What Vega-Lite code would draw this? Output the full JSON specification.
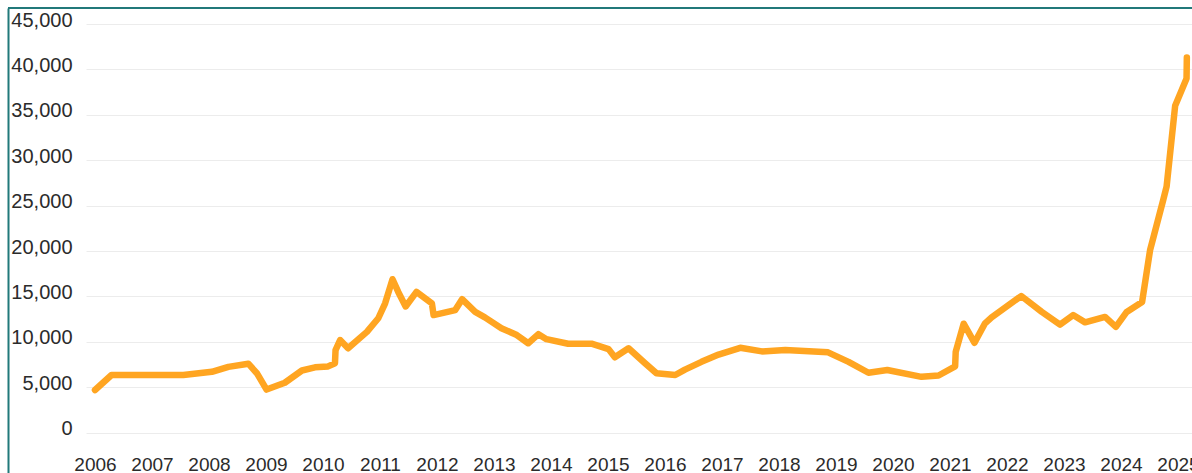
{
  "$schema": "https://vega.github.io/schema/vega-lite/v6.json",
  "autosize": {"type": "none"},
  "padding": {"left": 8, "top": 8, "right": 0, "bottom": 0},
  "width": 1184,
  "height": 465,
  "background": "white",
  "config": {
    "view": {"stroke": null},
    "font": "Liberation Sans"
  },
  "datasets": {
    "series": [
      {"t": 2006.0, "v": 4700},
      {"t": 2006.29, "v": 6350},
      {"t": 2007.55, "v": 6350},
      {"t": 2008.05, "v": 6700},
      {"t": 2008.34, "v": 7250},
      {"t": 2008.69, "v": 7600},
      {"t": 2008.84, "v": 6550},
      {"t": 2009.01, "v": 4750},
      {"t": 2009.33, "v": 5500},
      {"t": 2009.63, "v": 6850},
      {"t": 2009.86, "v": 7200},
      {"t": 2010.09, "v": 7300},
      {"t": 2010.21, "v": 7650},
      {"t": 2010.22, "v": 9100},
      {"t": 2010.3, "v": 10200},
      {"t": 2010.44, "v": 9300},
      {"t": 2010.77, "v": 11100},
      {"t": 2010.97, "v": 12600},
      {"t": 2011.09, "v": 14250},
      {"t": 2011.22, "v": 16900},
      {"t": 2011.32, "v": 15500},
      {"t": 2011.45, "v": 13900},
      {"t": 2011.64, "v": 15500},
      {"t": 2011.91, "v": 14250},
      {"t": 2011.94, "v": 12950},
      {"t": 2012.32, "v": 13500},
      {"t": 2012.44, "v": 14700},
      {"t": 2012.67, "v": 13300},
      {"t": 2012.84, "v": 12700},
      {"t": 2013.13, "v": 11500},
      {"t": 2013.4, "v": 10750},
      {"t": 2013.6, "v": 9850},
      {"t": 2013.78, "v": 10850},
      {"t": 2013.92, "v": 10300},
      {"t": 2014.3, "v": 9800},
      {"t": 2014.71, "v": 9800},
      {"t": 2015.01, "v": 9200},
      {"t": 2015.12, "v": 8300},
      {"t": 2015.36, "v": 9300},
      {"t": 2015.65, "v": 7650},
      {"t": 2015.85, "v": 6550},
      {"t": 2016.18, "v": 6350},
      {"t": 2016.35, "v": 6950},
      {"t": 2016.64, "v": 7800},
      {"t": 2016.94, "v": 8600},
      {"t": 2017.32, "v": 9350},
      {"t": 2017.7, "v": 8950},
      {"t": 2018.11, "v": 9100},
      {"t": 2018.86, "v": 8850},
      {"t": 2019.22, "v": 7800},
      {"t": 2019.57, "v": 6600},
      {"t": 2019.9, "v": 6900},
      {"t": 2020.5, "v": 6150},
      {"t": 2020.8, "v": 6300},
      {"t": 2021.09, "v": 7300},
      {"t": 2021.1, "v": 8900},
      {"t": 2021.24, "v": 12000},
      {"t": 2021.43, "v": 9900},
      {"t": 2021.61, "v": 12000},
      {"t": 2021.73, "v": 12700},
      {"t": 2022.25, "v": 15050},
      {"t": 2022.61, "v": 13300},
      {"t": 2022.93, "v": 11900},
      {"t": 2023.16, "v": 12950},
      {"t": 2023.37, "v": 12150},
      {"t": 2023.72, "v": 12750},
      {"t": 2023.91, "v": 11650},
      {"t": 2024.1, "v": 13300},
      {"t": 2024.37, "v": 14400},
      {"t": 2024.51, "v": 20100},
      {"t": 2024.74, "v": 25600},
      {"t": 2024.8, "v": 27100},
      {"t": 2024.95, "v": 36000},
      {"t": 2025.15, "v": 39000},
      {"t": 2025.155, "v": 41300}
    ]
  },
  "layer": [
    {
      "data": {"name": "series"},
      "mark": {"type": "line", "color": "#FFA521", "strokeWidth": 6.5, "strokeCap": "round", "strokeJoin": "round"},
      "encoding": {
        "x": {
          "field": "t",
          "type": "quantitative",
          "scale": {"domain": [2005.8421, 2025.2456], "range": [78, 1184], "nice": false, "zero": false},
          "axis": {
            "title": null,
            "orient": "bottom",
            "values": [2006, 2007, 2008, 2009, 2010, 2011, 2012, 2013, 2014, 2015, 2016, 2017, 2018, 2019, 2020, 2021, 2022, 2023, 2024, 2025],
            "format": "d",
            "domain": false,
            "ticks": false,
            "tickSize": 0,
            "grid": false,
            "labelFlush": false,
            "labelOverlap": false,
            "labelBaseline": "alphabetic",
            "labelPadding": -3,
            "labelFontSize": 19,
            "labelColor": "#2b2b2b",
            "labelFont": "Liberation Sans"
          }
        },
        "y": {
          "field": "v",
          "type": "quantitative",
          "scale": {"domain": [-4437, 46762], "nice": false, "zero": false},
          "axis": {
            "title": null,
            "orient": "left",
            "values": [0, 5000, 10000, 15000, 20000, 25000, 30000, 35000, 40000, 45000],
            "format": ",d",
            "domain": true,
            "domainColor": "#21797a",
            "domainWidth": 2,
            "ticks": false,
            "tickSize": 0,
            "grid": true,
            "gridColor": "#ececec",
            "gridWidth": 1,
            "labelAlign": "right",
            "labelBaseline": "middle",
            "labelPadding": -64,
            "labelOffset": -4,
            "labelFontSize": 20,
            "labelColor": "#2b2b2b",
            "labelFont": "Liberation Sans"
          }
        }
      }
    },
    {
      "data": {"values": [{"top": 46762}]},
      "mark": {"type": "rule", "color": "#21797a", "strokeWidth": 2},
      "encoding": {
        "y": {"field": "top", "type": "quantitative"}
      }
    }
  ]
}
